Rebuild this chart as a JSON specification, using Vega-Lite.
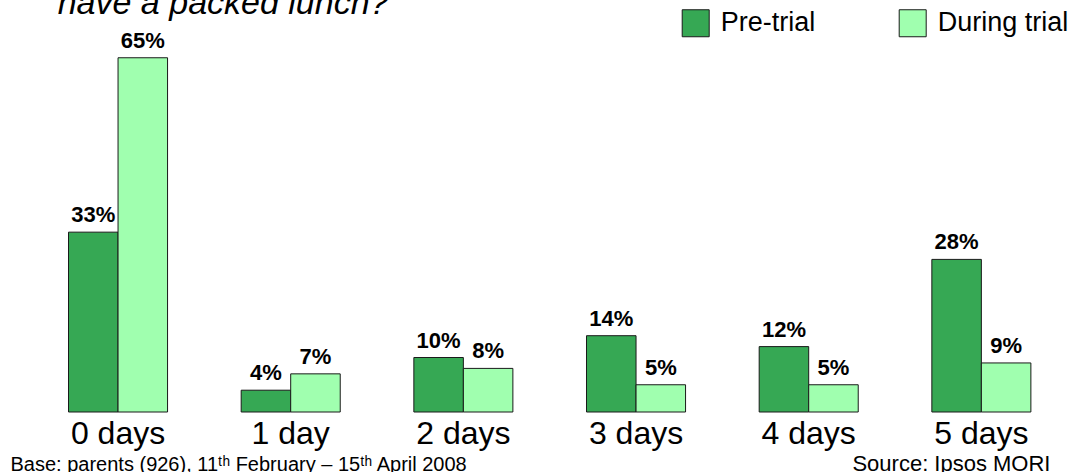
{
  "$schema": "https://vega.github.io/schema/vega-lite/v6.json",
  "width": 1036,
  "height": 381.5,
  "autosize": {"type": "none"},
  "padding": {"left": 31.7, "top": 30.5, "right": 6.3, "bottom": 60},
  "background": "white",
  "title": {
    "text": "have a packed lunch?",
    "anchor": "start",
    "frame": "group",
    "font": "Liberation Sans",
    "fontSize": 34,
    "fontStyle": "italic",
    "fontWeight": "normal",
    "color": "black",
    "baseline": "alphabetic",
    "dx": 26,
    "offset": -39
  },
  "data": {
    "values": [
      {"days": "0 days", "period": "Pre-trial", "value": 33},
      {"days": "0 days", "period": "During trial", "value": 65},
      {"days": "1 day", "period": "Pre-trial", "value": 4},
      {"days": "1 day", "period": "During trial", "value": 7},
      {"days": "2 days", "period": "Pre-trial", "value": 10},
      {"days": "2 days", "period": "During trial", "value": 8},
      {"days": "3 days", "period": "Pre-trial", "value": 14},
      {"days": "3 days", "period": "During trial", "value": 5},
      {"days": "4 days", "period": "Pre-trial", "value": 12},
      {"days": "4 days", "period": "During trial", "value": 5},
      {"days": "5 days", "period": "Pre-trial", "value": 28},
      {"days": "5 days", "period": "During trial", "value": 9}
    ]
  },
  "transform": [{"calculate": "datum.value + '%'", "as": "label"}],
  "encoding": {
    "x": {
      "field": "days",
      "type": "nominal",
      "sort": ["0 days", "1 day", "2 days", "3 days", "4 days", "5 days"],
      "scale": {"paddingInner": 0.4264, "paddingOuter": 0.2132},
      "axis": {
        "orient": "bottom",
        "domain": false,
        "ticks": false,
        "tickSize": 0,
        "grid": false,
        "labelAngle": 0,
        "labelFont": "Liberation Sans",
        "labelFontSize": 32,
        "labelColor": "black",
        "labelBaseline": "alphabetic",
        "labelPadding": 31,
        "labelAlign": "center",
        "encode": {
          "labels": {
            "update": {
              "dy": {"signal": "datum.value === '3 days' || datum.value === '5 days' ? 5 : 0"}
            }
          }
        },
        "title": "Base: parents (926), 11ᵗʰ February – 15ᵗʰ April 2008",
        "titleFont": "Liberation Sans",
        "titleFontSize": 20,
        "titleFontWeight": "normal",
        "titleColor": "black",
        "titleAlign": "left",
        "titleBaseline": "alphabetic",
        "titleAngle": 0,
        "titleX": -21.7,
        "titleY": 58
      }
    },
    "xOffset": {
      "field": "period",
      "type": "nominal",
      "sort": ["Pre-trial", "During trial"],
      "scale": {"paddingInner": 0, "paddingOuter": 0}
    },
    "y": {
      "field": "value",
      "type": "quantitative",
      "scale": {"domain": [0, 70], "nice": false, "zero": true},
      "axis": {
        "orient": "right",
        "domain": false,
        "ticks": false,
        "labels": false,
        "grid": false,
        "title": "Source: Ipsos MORI",
        "titleFont": "Liberation Sans",
        "titleFontSize": 22,
        "titleFontWeight": "normal",
        "titleColor": "black",
        "titleAlign": "right",
        "titleBaseline": "alphabetic",
        "titleAngle": 0,
        "titleX": -17.7,
        "titleY": 439.5
      }
    }
  },
  "layer": [
    {
      "mark": {"type": "bar", "stroke": "#1a1a1a", "strokeWidth": 1},
      "encoding": {
        "color": {
          "field": "period",
          "type": "nominal",
          "scale": {"domain": ["Pre-trial", "During trial"], "range": ["#36A854", "#A0FFAF"]},
          "legend": {
            "title": null,
            "orient": "none",
            "legendX": 650,
            "legendY": -21.5,
            "direction": "horizontal",
            "columns": 2,
            "columnPadding": 81,
            "padding": 0,
            "symbolType": "square",
            "symbolSize": 729,
            "symbolStrokeColor": "#1a1a1a",
            "symbolStrokeWidth": 1,
            "symbolOpacity": 1,
            "labelFont": "Liberation Sans",
            "labelFontSize": 27,
            "labelColor": "black",
            "labelOffset": 11,
            "labelLimit": 400
          }
        }
      }
    },
    {
      "mark": {
        "type": "text",
        "dy": -10,
        "baseline": "alphabetic",
        "align": "center",
        "font": "Liberation Sans",
        "fontSize": 22,
        "fontWeight": "bold",
        "color": "black"
      },
      "encoding": {"text": {"field": "label"}}
    }
  ],
  "config": {"view": {"stroke": null}, "axis": {"grid": false}}
}
